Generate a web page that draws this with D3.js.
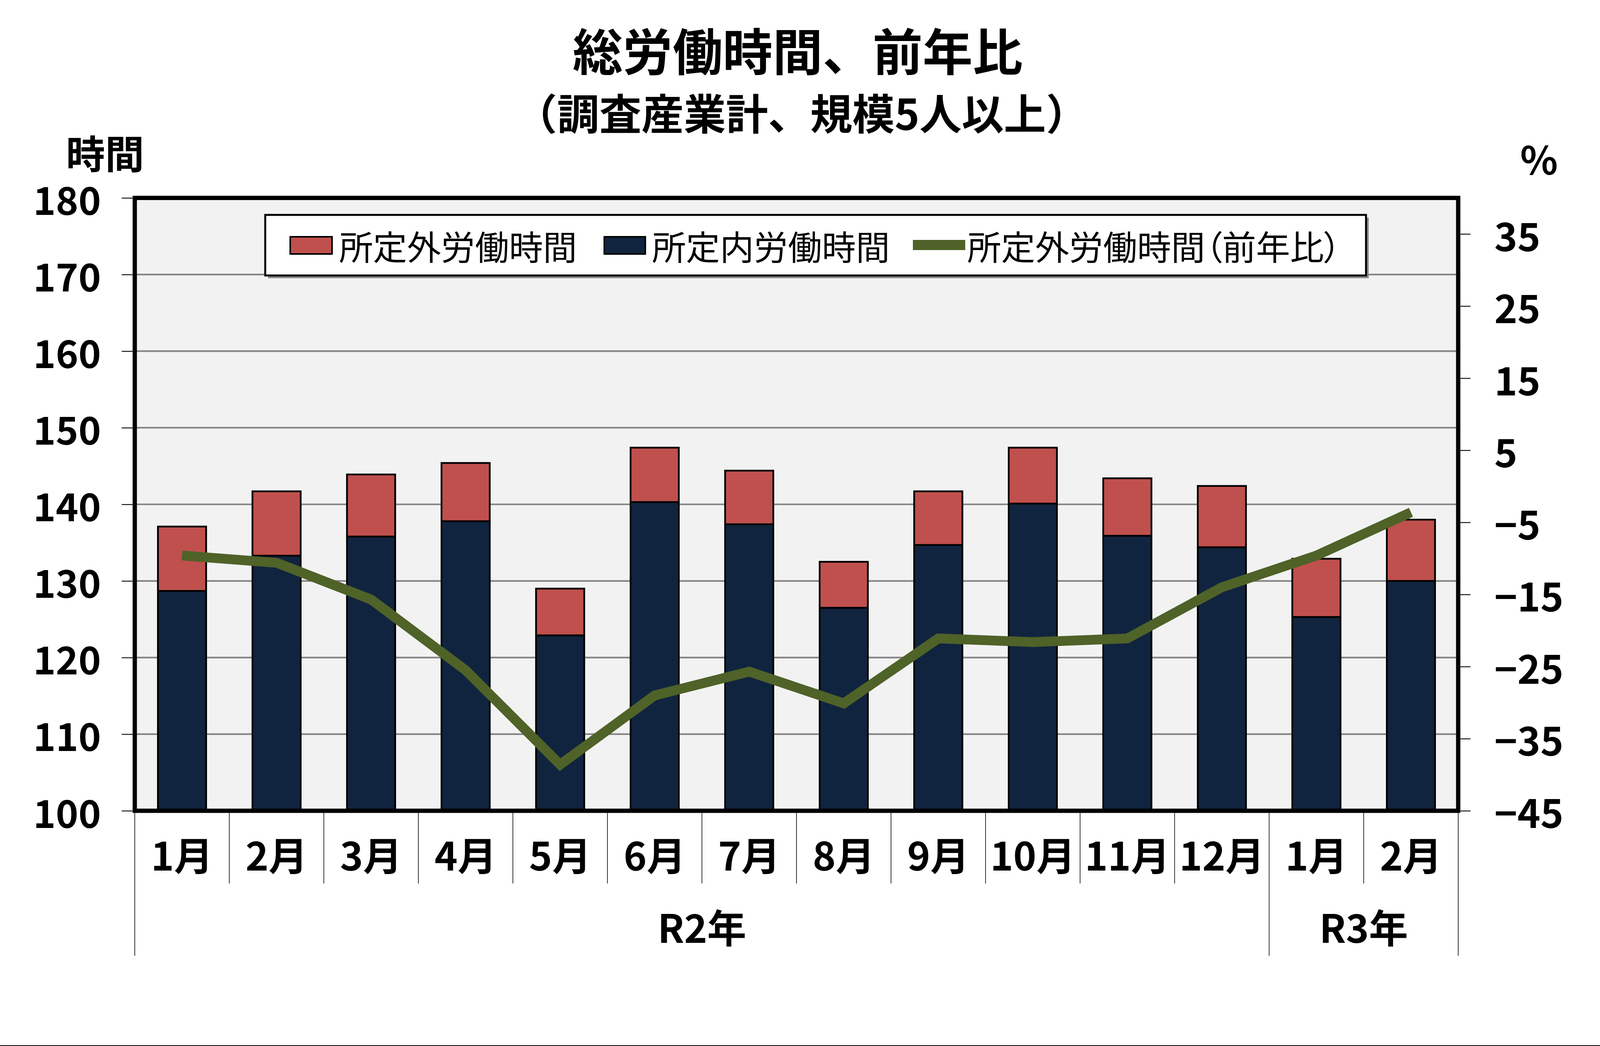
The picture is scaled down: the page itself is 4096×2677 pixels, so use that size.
<!DOCTYPE html>
<html><head><meta charset="utf-8">
<script src="https://cdn.jsdelivr.net/npm/d3@7"></script>
<style>
html,body{margin:0;padding:0;background:#fff;}
svg{display:block;}
text{font-family:'Noto Sans CJK JP','Noto Sans CJK SC',sans-serif;}
</style></head><body>
<svg id="c" width="4096" height="2677"></svg>
<script>
// ---- data ----
const months = ["1月","2月","3月","4月","5月","6月","7月","8月","9月","10月","11月","12月","1月","2月"];
const yearLabels = ["R2年","R3年"];
const yearStart = [0,12];
const yearEnd = [12,14];
const scheduled = [128.7,133.3,135.8,137.8,122.9,140.3,137.4,126.5,134.7,140.1,135.9,134.4,125.3,130.0];
const overtime  = [8.4,8.4,8.1,7.6,6.1,7.1,7.0,6.0,7.0,7.3,7.5,8.0,7.6,8.0];
const yoy       = [-9.6,-10.6,-15.7,-25.5,-38.6,-29.0,-25.7,-30.1,-21.1,-21.6,-21.1,-14.0,-9.6,-3.6];
const leftTicks  = [100,110,120,130,140,150,160,170,180];
const rightTicks = [-45,-35,-25,-15,-5,5,15,25,35];
const seriesNames = ["所定外労働時間","所定内労働時間","所定外労働時間（前年比）"];
const titleText = "総労働時間、前年比";
const subtitleText = "（調査産業計、規模5人以上）";
const leftAxisTitle = "時間";
const rightAxisTitle = "%";

// ---- layout ----
const W = 4096, H = 2677;
const L = 345, R = 3733, T = 506.5, B = 2075;
const C_RED = "#C0504D", C_NAVY = "#11243F", C_GREEN = "#4F6228";

const svg = d3.select("#c");
svg.append("rect").attr("width", W).attr("height", H).attr("fill", "#fff");

const y = d3.scaleLinear().domain([100,180]).range([B,T]);
const y2 = d3.scaleLinear().domain([-45,40]).range([B,T]);
const x = d3.scaleBand().domain(d3.range(months.length)).range([L,R]).paddingInner(0.49).paddingOuter(0.245);
const step = x.step();
const bw = x.bandwidth();

// titles
svg.append("text").attr("x", 2042).attr("y", 125).attr("text-anchor","middle")
  .attr("dominant-baseline","central").attr("font-size",128).attr("font-weight","bold").text(titleText);
svg.append("text").attr("x", 2052).attr("y", 285).attr("text-anchor","middle")
  .attr("dominant-baseline","central").attr("font-size",108).attr("font-weight","bold").text(subtitleText);
svg.append("text").attr("x", 269).attr("y", 388).attr("text-anchor","middle")
  .attr("dominant-baseline","central").attr("font-size",100).attr("font-weight","bold").text(leftAxisTitle);
svg.append("text").attr("x", 3940).attr("y", 403).attr("text-anchor","middle")
  .attr("dominant-baseline","central").attr("font-size",100).attr("font-weight","bold").text(rightAxisTitle);

// plot background
svg.append("rect").attr("x",L).attr("y",T).attr("width",R-L).attr("height",B-T).attr("fill","#F2F2F2");

// gridlines
svg.append("g").selectAll("line").data(leftTicks.filter(d=>d>100 && d<180)).join("line")
  .attr("x1",L).attr("x2",R).attr("y1",d=>y(d)).attr("y2",d=>y(d))
  .attr("stroke","#858585").attr("stroke-width",4.2);

// stacked bars
const rows = scheduled.map((v,i)=>({sch:v, ot:overtime[i]}));
const stack = d3.stack().keys(["sch","ot"])(rows);
const colors = {sch:C_NAVY, ot:C_RED};
stack.forEach(series=>{
  svg.append("g").selectAll("rect").data(series).join("rect")
    .attr("x",(d,i)=>x(i))
    .attr("width",bw)
    .attr("y",d=>y(d[1]))
    .attr("height",d=>y(Math.max(100,d[0]))-y(d[1]))
    .attr("fill",colors[series.key])
    .attr("stroke","#000").attr("stroke-width",4.5);
});

// line
const line = d3.line().x((d,i)=>x(i)+bw/2).y(d=>y2(d));
svg.append("path").datum(yoy).attr("d",line).attr("fill","none")
  .attr("stroke",C_GREEN).attr("stroke-width",25)
  .attr("stroke-linejoin","miter").attr("stroke-miterlimit",10).attr("stroke-linecap","butt");

// plot frame
svg.append("rect").attr("x",L).attr("y",T).attr("width",R-L).attr("height",B-T)
  .attr("fill","none").attr("stroke","#000").attr("stroke-width",11);

// left axis
const gl = svg.append("g").attr("transform",`translate(${L-5.5},0)`)
  .call(d3.axisLeft(y).tickValues(leftTicks).tickSize(28).tickPadding(53).tickFormat(d3.format("d")));
gl.select(".domain").remove();
gl.selectAll(".tick line").attr("stroke","#000").attr("stroke-width",2.2);
gl.selectAll(".tick text").attr("dy",null).attr("dominant-baseline","central")
  .attr("font-size",98).attr("font-weight","bold").attr("fill","#000")
  .style("font-family","'Noto Sans CJK JP',sans-serif");

// right axis
const gr = svg.append("g").attr("transform",`translate(${R+5.5},0)`)
  .call(d3.axisRight(y2).tickValues(rightTicks).tickSize(26).tickPadding(61)
    .tickFormat(d=> d<0 ? "−"+Math.abs(d) : String(d)));
gr.select(".domain").remove();
gr.selectAll(".tick line").attr("stroke","#000").attr("stroke-width",2.2);
gr.selectAll(".tick text").attr("dy",null).attr("dominant-baseline","central")
  .attr("font-size",100).attr("font-weight","bold").attr("fill","#000")
  .style("font-family","'Noto Sans CJK JP',sans-serif");

// category separators
const bounds = d3.range(months.length+1);
const longB = new Set([0,12,14]);
const edgeX = b => L + b*step;
svg.append("g").selectAll("line").data(bounds).join("line")
  .attr("x1",edgeX).attr("x2",edgeX)
  .attr("y1",B+5.5).attr("y2",b=>longB.has(b)?2446:2261)
  .attr("stroke","#000").attr("stroke-width",1.6);

// month labels
svg.append("g").selectAll("text").data(months).join("text")
  .attr("x",(d,i)=>x(i)+bw/2).attr("y",2184)
  .attr("text-anchor","middle").attr("dominant-baseline","central")
  .attr("font-size",100).attr("font-weight","bold").text(d=>d);

// year labels
svg.append("g").selectAll("text").data(yearLabels).join("text")
  .attr("x",(d,i)=>(edgeX(yearStart[i])+edgeX(yearEnd[i]))/2).attr("y",2369)
  .attr("text-anchor","middle").attr("dominant-baseline","central")
  .attr("font-size",100).attr("font-weight","bold").text(d=>d);

// legend
const lg = svg.append("g");
lg.append("rect").attr("x",686).attr("y",557).attr("width",2818).attr("height",155).attr("fill","#8a8a8a");
lg.append("rect").attr("x",679).attr("y",550).attr("width",2818).attr("height",155)
  .attr("fill","#fff").attr("stroke","#000").attr("stroke-width",5);
const ly = 628;
lg.append("rect").attr("x",743).attr("y",ly-22).attr("width",107).attr("height",44)
  .attr("fill",C_RED).attr("stroke","#000").attr("stroke-width",4);
lg.append("text").attr("x",868).attr("y",ly).attr("dominant-baseline","central")
  .attr("font-size",87).text(seriesNames[0]);
lg.append("rect").attr("x",1547).attr("y",ly-22).attr("width",105).attr("height",44)
  .attr("fill",C_NAVY).attr("stroke","#000").attr("stroke-width",4);
lg.append("text").attr("x",1669).attr("y",ly).attr("dominant-baseline","central")
  .attr("font-size",87).text(seriesNames[1]);
lg.append("line").attr("x1",2337).attr("x2",2471).attr("y1",ly-1).attr("y2",ly-1)
  .attr("stroke",C_GREEN).attr("stroke-width",26);
lg.append("text").attr("x",2476).attr("y",ly).attr("dominant-baseline","central")
  .attr("font-size",87).style("font-feature-settings","'palt'").text(seriesNames[2]);

// bottom edge line
svg.append("rect").attr("x",0).attr("y",H-2).attr("width",W).attr("height",2).attr("fill","#000");
</script>
</body></html>
